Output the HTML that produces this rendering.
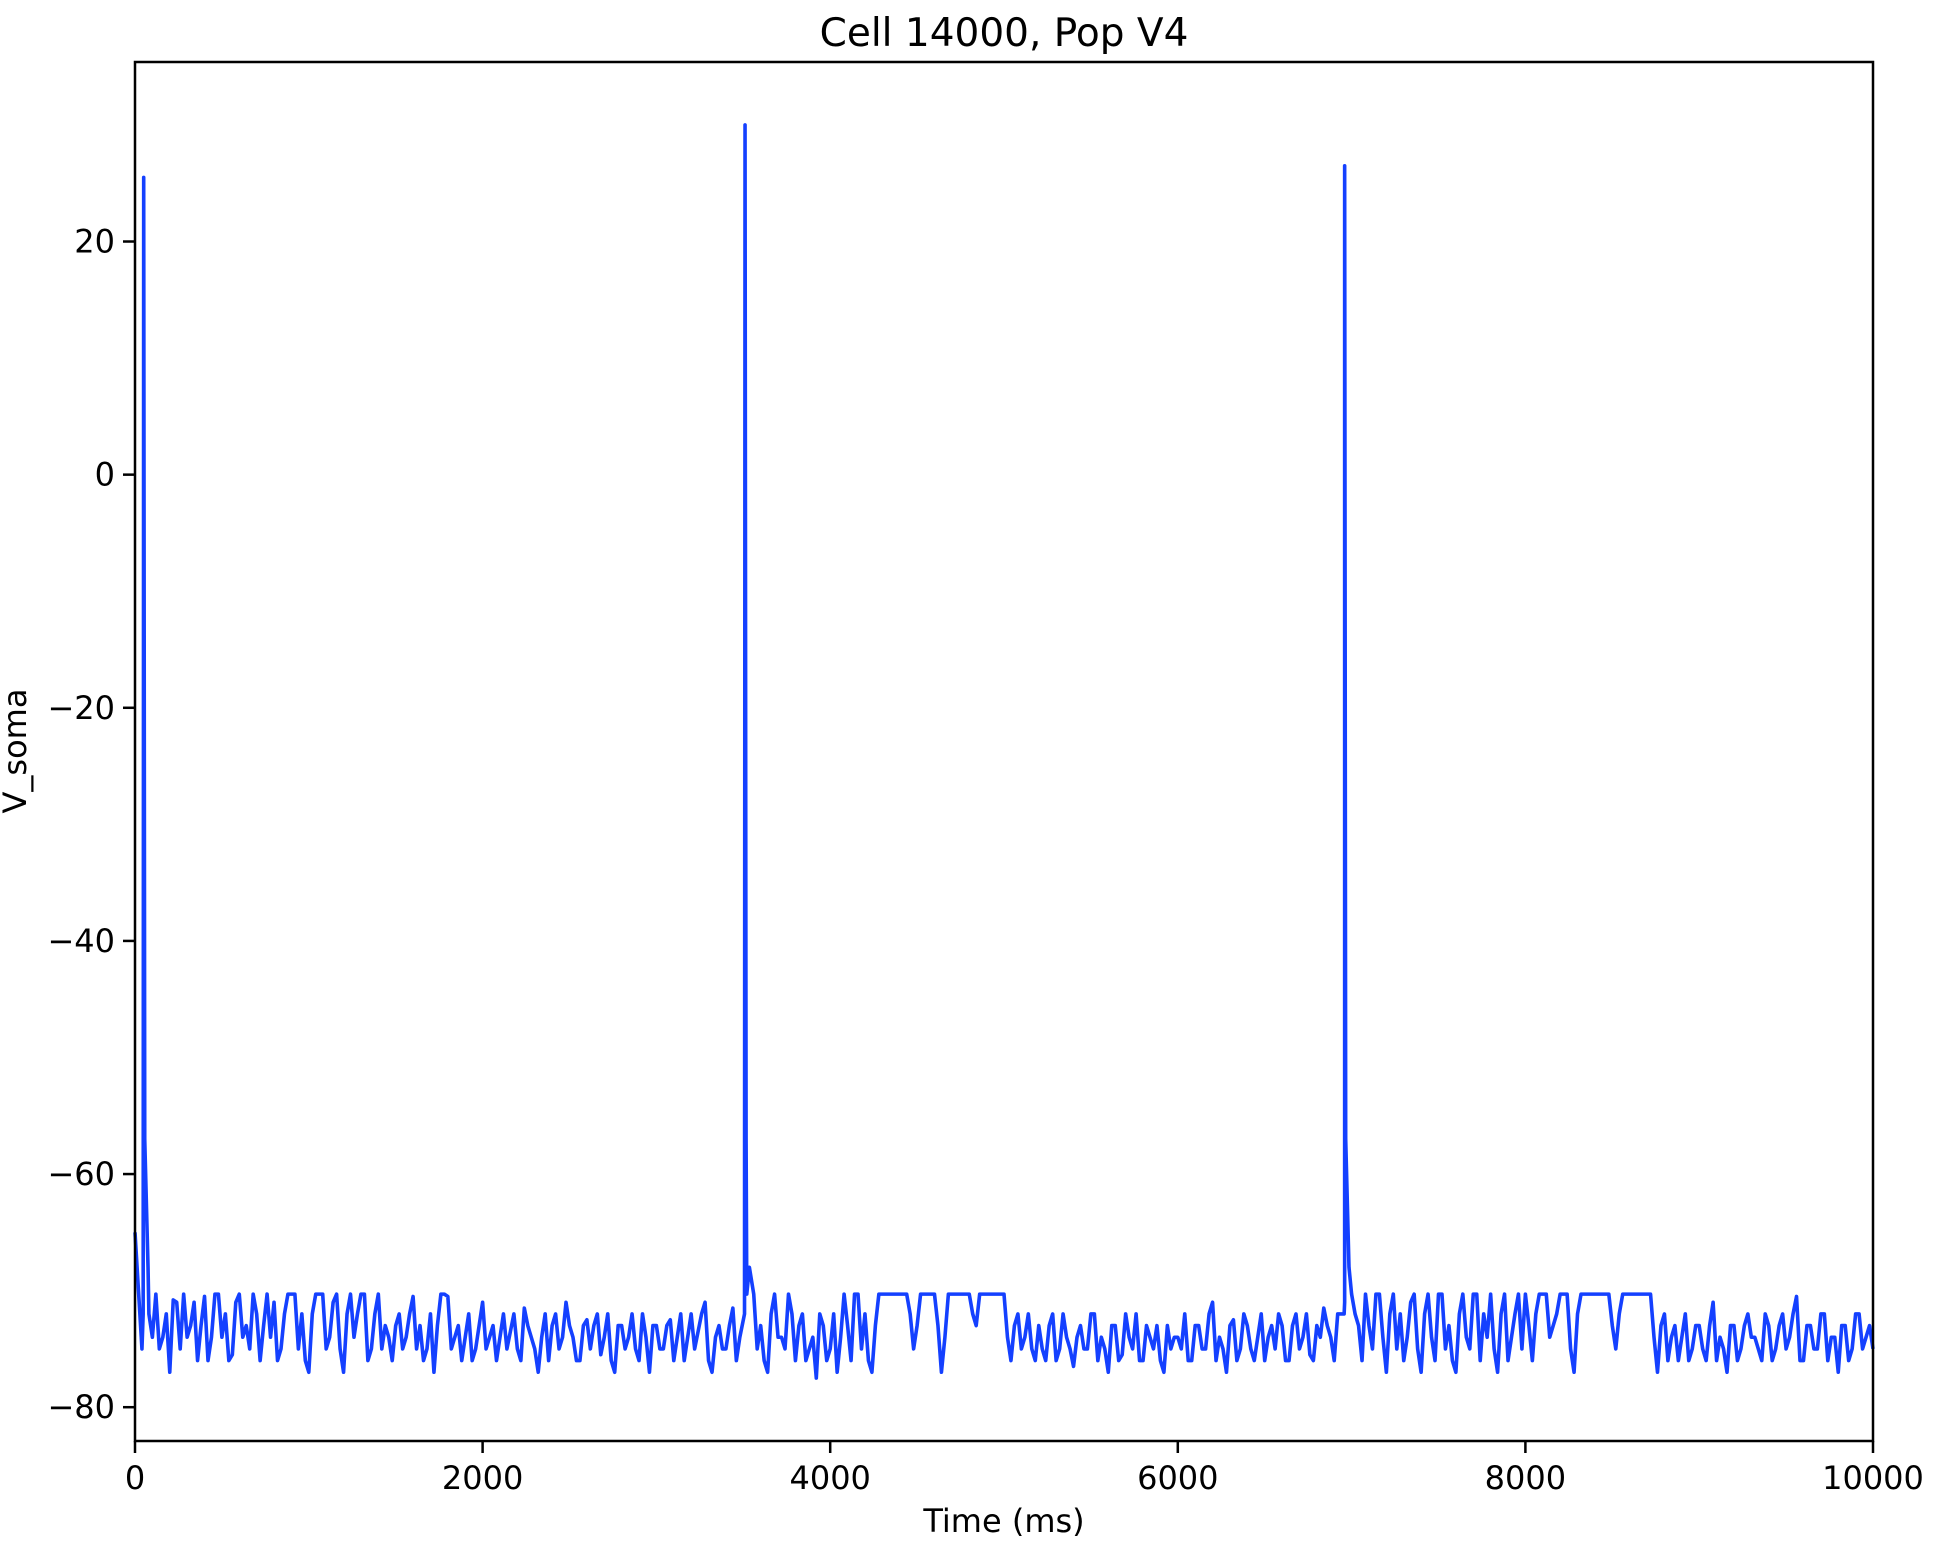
<!DOCTYPE html>
<html><head><meta charset="utf-8">
<style>
html,body{margin:0;padding:0;background:#fff;}
svg{display:block;font-family:"DejaVu Sans","Liberation Sans",sans-serif;}
</style></head>
<body>
<svg id="chart" width="1950" height="1548" viewBox="0 0 1950 1548" xmlns="http://www.w3.org/2000/svg">
<rect x="0" y="0" width="1950" height="1548" fill="#fff"/>
<text x="1004" y="46" font-size="39" text-anchor="middle" fill="#000">Cell 14000, Pop V4</text>
<text x="1004" y="1532" font-size="32" text-anchor="middle" fill="#000">Time (ms)</text>
<text transform="translate(26,751) rotate(-90)" font-size="32" text-anchor="middle" fill="#000">V_soma</text>
<g id="ticks"></g>
<g id="series"></g>
<rect x="135" y="62" width="1738" height="1379" fill="none" stroke="#000" stroke-width="2.5"/>
</svg>
<script>
const xTicks = [0, 2000, 4000, 6000, 8000, 10000];
const xTickLabels = ["0", "2000", "4000", "6000", "8000", "10000"];
const yTicks = [-80, -60, -40, -20, 0, 20];
const yTickLabels = ["\u221280", "\u221260", "\u221240", "\u221220", "0", "20"];
const sampleStep = 40;
const vsoma = [
-70.3,-75,-72,-70.3,-74,-77,-71,-70.3,-73,-76,-70.5,-74,-70.3,-72,-75.5,-70.3,-73,-70.3,-76,-70.3,-71,-75,-70.3,-70.3,-72,
-77,-70.3,-70.3,-74,-70.3,-77,-70.3,-72,-70.3,-75,-70.3,-73,-76,-72,-74,-70.5,-73,-75,-77,-70.3,-70.5,-74,-76,-72,-75,
-71,-74,-76,-72,-73.5,-75,-71.5,-74,-77,-72,-73,-75,-71,-74,-76,-72.5,-73,-75.5,-72,-77,-73,-74,-75,-72,-77,
-73,-75,-72.5,-74,-76,-72,-73.5,-71,-77,-73,-75,-71.5,-74,-70.3,-70.3,-73,-77,-70.3,-74,-70.3,-76,-72,-75,-77.5,-73,
-75,-77,-70.3,-76,-70.3,-72,-77,-70.3,-70.3,-70.3,-70.3,-70.3,-75,-70.3,-70.3,-70.3,-77,-70.3,-70.3,-70.3,-70.3,-73,-70.3,-70.3,-70.3,
-70.3,-76,-72,-74,-75,-73,-76,-72,-75,-74,-76.5,-73,-75,-72,-74,-77,-73,-75.5,-74,-72,-76,-74,-73,-77,-75,
-74,-72,-76,-73,-75,-71,-74,-77,-72.5,-75,-73,-76,-72,-74,-75,-73,-76,-72,-74,-75.5,-73,-71.5,-74,-72,-71,
-70.3,-73,-70.3,-75,-70.3,-77,-70.3,-72,-74,-70.3,-77,-70.3,-76,-70.3,-73,-77,-70.3,-75,-70.3,-72,-70.3,-77,-70.3,-74,-70.3,
-70.3,-76,-70.3,-70.3,-73,-70.3,-70.3,-77,-70.3,-70.3,-70.3,-70.3,-70.3,-75,-70.3,-70.3,-70.3,-70.3,-70.3,-77,-72,-74,-76,-72,-75,
-73,-76,-71,-74,-77,-73,-75,-72,-74,-76,-73,-75,-72,-74,-70.5,-76,-73,-75,-72,-74,-77,-73,-75,-72,-74,-75
];
const vsomaMid = [
-73,-71,-74,-75,-72,-70.8,-75,-74,-71,-73,-76,-70.3,-74,-76,-71,-74,-75,-72,-73,-74,-76,-72,-70.3,-75,-76,
-72,-70.3,-75,-71,-75,-72,-74,-70.3,-76,-72,-75,-74,-73,-75,-72,-75,-76,-72,-73,-70.3,-75,-73,-74,-76,-73,
-75,-73,-74,-75,-72,-76,-73,-75,-74,-76,-72,-74,-73,-76,-73,-75,-72,-74,-76,-73,-75,-72,-76,-74,-73,
-75,-73,-76,-72,-74,-75,-72,-76,-74,-75,-73,-76,-72,-73,-75,-76,-72,-74,-75,-72,-73,-76,-74,-72,-76,
-72,-74,-73,-70.3,-75,-76,-73,-70.3,-70.3,-70.3,-70.3,-72,-73,-70.3,-70.3,-73,-74,-70.3,-70.3,-70.3,-72,-70.3,-70.3,-70.3,-70.3,
-74,-73,-75,-72,-76,-75,-73,-76,-72,-75,-74,-75,-72,-76,-75,-73,-76,-72,-75,-76,-73,-75,-76,-73,-74,
-75,-76,-73,-75,-72,-76,-75,-73,-76,-72,-75,-74,-76,-73,-72,-76,-73,-75,-72,-76,-74,-73,-76,-73,-72,
-72,-76,-73,-70.3,-74,-72,-75,-76,-71,-75,-72,-74,-70.3,-75,-76,-72,-74,-70.3,-76,-74,-75,-72,-76,-72,-75,
-73,-72,-70.3,-74,-72,-70.3,-75,-72,-70.3,-70.3,-70.3,-70.3,-73,-72,-70.3,-70.3,-70.3,-70.3,-74,-73,-76,-73,-74,-76,-73,
-75,-73,-76,-75,-73,-76,-73,-74,-75,-72,-76,-73,-75,-72,-76,-73,-75,-72,-76,-74,-73,-76,-72,-75,-73
];
const spikeTimes = [50, 3510, 6960];
const spikePeaks = [25.5, 30, 26.5];
const initialValue = -65;

const X0 = 135, X1 = 1873, Y0 = 62, Y1 = 1441;
const xMin = 0, xMax = 10000, yMin = -82.9, yMax = 35.4;
function xs(t){ return X0 + (t - xMin) / (xMax - xMin) * (X1 - X0); }
function ys(v){ return Y1 - (v - yMin) / (yMax - yMin) * (Y1 - Y0); }

const NS = "http://www.w3.org/2000/svg";
const ticksG = document.getElementById('ticks');
xTicks.forEach((t, i) => {
  const l = document.createElementNS(NS, 'line');
  l.setAttribute('x1', xs(t)); l.setAttribute('x2', xs(t));
  l.setAttribute('y1', Y1); l.setAttribute('y2', Y1 + 12);
  l.setAttribute('stroke', '#000'); l.setAttribute('stroke-width', '2.5');
  
  
  ticksG.appendChild(l);
  const tx = document.createElementNS(NS, 'text');
  tx.setAttribute('x', xs(t)); tx.setAttribute('y', Y1 + 48);
  tx.setAttribute('font-size', '32'); tx.setAttribute('text-anchor', 'middle');
  tx.textContent = xTickLabels[i];
  
  
  ticksG.appendChild(tx);
});
yTicks.forEach((v, i) => {
  const l = document.createElementNS(NS, 'line');
  l.setAttribute('x1', X0 - 12); l.setAttribute('x2', X0);
  l.setAttribute('y1', ys(v)); l.setAttribute('y2', ys(v));
  l.setAttribute('stroke', '#000'); l.setAttribute('stroke-width', '2.5');
  
  
  ticksG.appendChild(l);
  const tx = document.createElementNS(NS, 'text');
  tx.setAttribute('x', X0 - 20); tx.setAttribute('y', ys(v) + 11);
  tx.setAttribute('font-size', '32'); tx.setAttribute('text-anchor', 'end');
  tx.textContent = yTickLabels[i];
  
  
  ticksG.appendChild(tx);
});

let pts = [[0, initialValue]];
for (let i = 1; i < vsoma.length; i++) pts.push([i * sampleStep, vsoma[i]]);
for (let i = 0; i < vsomaMid.length; i++) {
  const t = i * sampleStep + sampleStep / 2;
  if (spikeTimes.some(s => Math.abs(t - s) < 45)) continue;
  pts.push([t, vsomaMid[i]]);
}
spikeTimes.forEach((t, k) => {
  pts.push([t - 3, -72]);
  pts.push([t, spikePeaks[k]]);
  pts.push([t + 6, -57]);
  pts.push([t + 25, -68]);
});
pts.sort((a, b) => a[0] - b[0]);
const d = pts.map((p, i) => (i ? 'L' : 'M') + xs(p[0]).toFixed(2) + ' ' + ys(p[1]).toFixed(2)).join(' ');
const path = document.createElementNS(NS, 'path');
path.setAttribute('d', d);
path.setAttribute('fill', 'none');
path.setAttribute('stroke', '#1440ff');
path.setAttribute('stroke-width', '3.6');
path.setAttribute('stroke-linejoin', 'round');


document.getElementById('series').appendChild(path);
</script>
</body></html>
